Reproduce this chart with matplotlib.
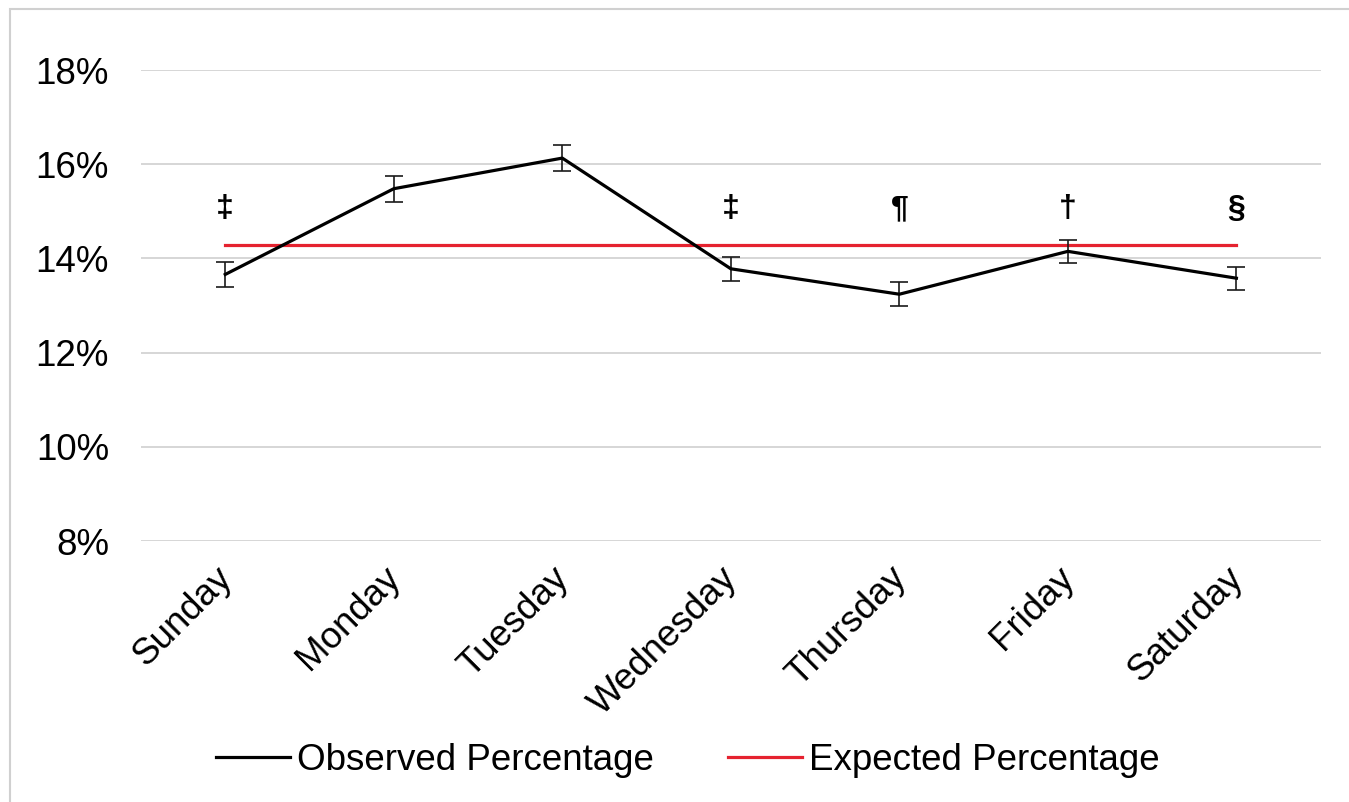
import matplotlib.pyplot as plt
import matplotlib.transforms as mtransforms
from matplotlib.lines import Line2D
from matplotlib.patches import Rectangle
from matplotlib.ticker import FuncFormatter

plt.rcParams['font.family'] = ['Liberation Sans', 'DejaVu Sans']

# day-of-week shares (%), with error bar half widths
days     = ['Sunday', 'Monday', 'Tuesday', 'Wednesday', 'Thursday', 'Friday', 'Saturday']
observed = [13.66, 15.48, 16.13, 13.78, 13.24, 14.15, 13.58]
err      = [0.26, 0.28, 0.27, 0.26, 0.25, 0.24, 0.24]
expected = [14.29] * 7
marks    = ['\u2021', '', '', '\u2021', '\u00b6', '\u2020', '\u00a7']
mark_y   = 15.05

fig = plt.figure(figsize=(13.49, 8.02), dpi=100)
ax = fig.add_axes([0.1045, 0.3254, 0.8745, 0.5873])

x = list(range(len(days)))
ax.errorbar(x, observed, yerr=err, color='black', lw=2.3, ecolor='#1a1a1a',
            elinewidth=1.2, capsize=6.5, capthick=1.2, zorder=3)
ax.plot(x, expected, color='#e5222f', lw=2.3, zorder=2)

for xi, m in zip(x, marks):
    if m:
        ax.text(xi, mark_y, m, ha='center', va='center', fontsize=23,
                fontweight='bold', color='black')

ax.set_xlim(-0.5, len(days) - 0.5)
ax.set_ylim(8, 18)
ax.set_yticks(range(8, 19, 2))
ax.yaxis.set_major_formatter(FuncFormatter(lambda v, p: '%d%%' % v))
ax.set_xticks(x)
ax.set_xticklabels(days, rotation=45, ha='right', va='top', rotation_mode='anchor')
ax.tick_params(axis='both', length=0, labelsize=26.5, colors='black')
ax.tick_params(axis='y', pad=23)
ax.tick_params(axis='x', pad=14)
# nudge the slanted day names a little to the left
shift = mtransforms.ScaledTranslation(-8 / 72, 0, fig.dpi_scale_trans)
for lab in ax.get_xticklabels():
    lab.set_transform(lab.get_transform() + shift)
ax.grid(axis='y', color='#d0d0d0', lw=1.2)
ax.set_axisbelow(True)
for s in ax.spines.values():
    s.set_visible(False)

handles = [Line2D([], [], color='black', lw=2.3),
           Line2D([], [], color='#e5222f', lw=2.3)]
labels = ['Observed Percentage', 'Expected Percentage']
fig.legend(handles, labels, loc='center', bbox_to_anchor=(0.51, 0.052), ncol=2,
           frameon=False, fontsize=26.5, handlelength=2.0, handletextpad=0.2,
           columnspacing=2.0)

fig.patches.append(Rectangle((0.0074, -0.01), 1.0, 0.9988, transform=fig.transFigure,
                             fill=False, edgecolor='#d0d0d0', lw=1.5))

fig.savefig('out.png', dpi=100)
